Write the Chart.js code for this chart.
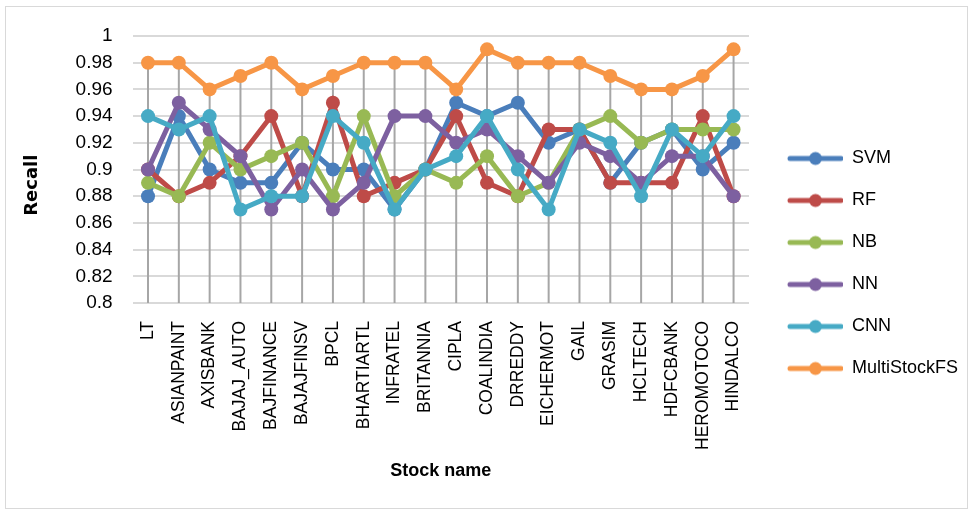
<!DOCTYPE html>
<html>
<head>
<meta charset="utf-8">
<script src="https://cdn.jsdelivr.net/npm/chart.js@4/dist/chart.umd.min.js"></script>
<style>
  html, body { margin: 0; padding: 0; background: #fff; }
  #wrap { width: 973px; height: 514px; position: relative; }
</style>
</head>
<body>
<div id="wrap"><canvas id="myChart" width="973" height="514"></canvas></div>
<script>
// chart data
const stocks = ["LT", "ASIANPAINT", "AXISBANK", "BAJAJ_AUTO", "BAJFINANCE", "BAJAJFINSV", "BPCL",
  "BHARTIARTL", "INFRATEL", "BRITANNIA", "CIPLA", "COALINDIA", "DRREDDY", "EICHERMOT", "GAIL",
  "GRASIM", "HCLTECH", "HDFCBANK", "HEROMOTOCO", "HINDALCO"];

const svm = [0.88, 0.94, 0.90, 0.89, 0.89, 0.92, 0.90, 0.90, 0.87, 0.90, 0.95, 0.94, 0.95, 0.92, 0.93, 0.89, 0.92, 0.93, 0.90, 0.92];
const rf = [0.90, 0.88, 0.89, 0.91, 0.94, 0.88, 0.95, 0.88, 0.89, 0.90, 0.94, 0.89, 0.88, 0.93, 0.93, 0.89, 0.89, 0.89, 0.94, 0.88];
const nb = [0.89, 0.88, 0.92, 0.90, 0.91, 0.92, 0.88, 0.94, 0.88, 0.90, 0.89, 0.91, 0.88, 0.89, 0.93, 0.94, 0.92, 0.93, 0.93, 0.93];
const nn = [0.90, 0.95, 0.93, 0.91, 0.87, 0.90, 0.87, 0.89, 0.94, 0.94, 0.92, 0.93, 0.91, 0.89, 0.92, 0.91, 0.89, 0.91, 0.91, 0.88];
const cnn = [0.94, 0.93, 0.94, 0.87, 0.88, 0.88, 0.94, 0.92, 0.87, 0.90, 0.91, 0.94, 0.90, 0.87, 0.93, 0.92, 0.88, 0.93, 0.91, 0.94];
const multiStockFS = [0.98, 0.98, 0.96, 0.97, 0.98, 0.96, 0.97, 0.98, 0.98, 0.98, 0.96, 0.99, 0.98, 0.98, 0.98, 0.97, 0.96, 0.96, 0.97, 0.99];

const yMin = 0.8;
const yMax = 1;
const yStep = 0.02;

const seriesNames = ["SVM", "RF", "NB", "NN", "CNN", "MultiStockFS"];
const seriesValues = [svm, rf, nb, nn, cnn, multiStockFS];
const seriesColors = ["#4a7ebb", "#be4b48", "#98b954", "#7d60a0", "#46aac5", "#f79646"];

// legend marker: a short line with a dot in the middle (left part left empty)
function legendMarker(color) {
  const c = document.createElement("canvas");
  c.width = 70;
  c.height = 16;
  const g = c.getContext("2d");
  g.strokeStyle = color;
  g.lineWidth = 5;
  g.lineCap = "round";
  g.beginPath();
  g.moveTo(17, 8);
  g.lineTo(68, 8);
  g.stroke();
  g.fillStyle = color;
  g.beginPath();
  g.arc(42.5, 8, 6.5, 0, Math.PI * 2);
  g.fill();
  return c;
}

// drop lines from the highest point of each category down to the axis
const dropLines = {
  id: "dropLines",
  beforeDatasetsDraw(chart) {
    const { ctx, chartArea, scales } = chart;
    ctx.save();
    ctx.strokeStyle = "#a6a6a6";
    ctx.lineWidth = 2;
    stocks.forEach((s, i) => {
      const top = Math.max(...seriesValues.map((v) => v[i]));
      const x = scales.x.getPixelForValue(i);
      ctx.beginPath();
      ctx.moveTo(x, scales.y.getPixelForValue(top));
      ctx.lineTo(x, chartArea.bottom);
      ctx.stroke();
    });
    ctx.restore();
  },
};

// thin frame around the whole chart
const frame = {
  id: "frame",
  afterDraw(chart) {
    const ctx = chart.ctx;
    ctx.save();
    ctx.strokeStyle = "#d9d9d9";
    ctx.lineWidth = 1;
    ctx.strokeRect(5.5, 6.5, 962, 502);
    ctx.restore();
  },
};

const ctx = document.getElementById("myChart").getContext("2d");

new Chart(ctx, {
  type: "line",
  data: {
    labels: stocks,
    datasets: seriesNames.map((name, k) => ({
      label: name,
      data: seriesValues[k],
      borderColor: seriesColors[k],
      backgroundColor: seriesColors[k],
      borderWidth: 5,
      pointRadius: 7,
      pointHoverRadius: 7,
      pointBorderWidth: 0,
      tension: 0,
      order: seriesNames.length - k, // later series drawn on top
    })),
  },
  options: {
    responsive: false,
    animation: false,
    layout: { padding: { left: 5, right: 5, top: 36, bottom: 23 } },
    plugins: {
      tooltip: { enabled: false },
      legend: {
        position: "right",
        align: "center",
        labels: {
          usePointStyle: true,
          pointStyleWidth: 70,
          padding: 24,
          color: "#000",
          font: { family: "Liberation Sans", size: 18 },
          sort: (a, b) => a.datasetIndex - b.datasetIndex,
          generateLabels(chart) {
            const items = Chart.defaults.plugins.legend.labels.generateLabels(chart);
            items.forEach((it) => {
              it.pointStyle = legendMarker(seriesColors[it.datasetIndex]);
            });
            return items;
          },
        },
      },
    },
    scales: {
      x: {
        offset: true,
        grid: { display: false },
        border: { display: false },
        afterFit: (scale) => { scale.height = 188; },
        ticks: {
          minRotation: 90,
          maxRotation: 90,
          autoSkip: false,
          color: "#000",
          padding: 10,
          font: { family: "Liberation Sans", size: 17.5 },
        },
        title: {
          display: true,
          text: "Stock name",
          color: "#000",
          padding: { top: 4, bottom: 9 },
          font: { family: "Liberation Sans", size: 18, weight: "bold" },
        },
      },
      y: {
        min: yMin,
        max: yMax,
        grid: { color: "#d9d9d9", lineWidth: 2, drawTicks: false },
        border: { display: false },
        afterFit: (scale) => { scale.width = 127.6; },
        ticks: {
          stepSize: yStep,
          color: "#000",
          padding: 20,
          font: { family: "Liberation Sans", size: 19 },
          callback: (v) => String(Number(v.toFixed(2))),
        },
        title: {
          display: true,
          text: "Recall     ",
          color: "#000",
          padding: { top: 17, bottom: 4 },
          font: { family: "DejaVu Sans", size: 18, weight: "bold" },
        },
      },
    },
  },
  plugins: [dropLines, frame],
});
</script>
</body>
</html>
